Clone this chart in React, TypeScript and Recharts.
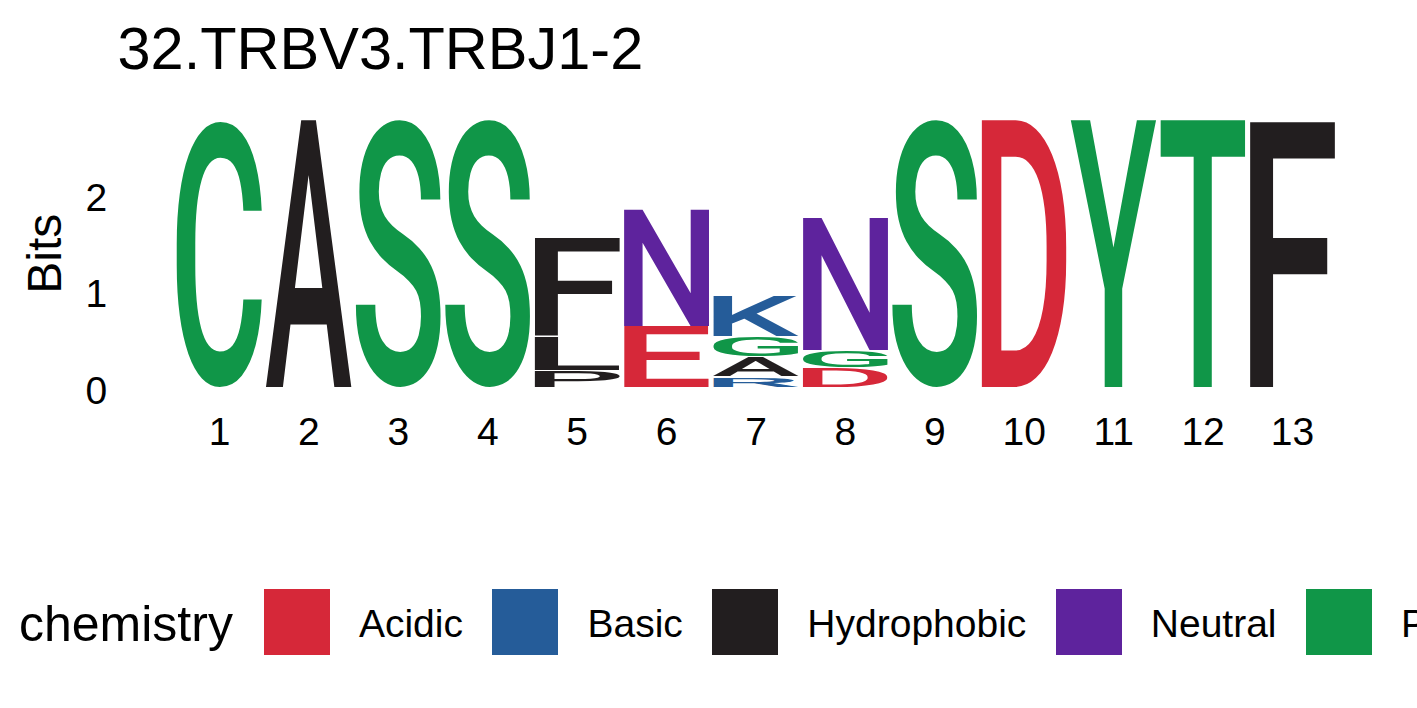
import React from 'react';
import {BarChart, Bar, XAxis, YAxis, Legend} from 'recharts';

// sequence logo: residues per position, listed bottom to top, with their heights in bits
const positions = ['1', '2', '3', '4', '5', '6', '7', '8', '9', '10', '11', '12', '13'];
const residues = [
    ['C'], ['A'], ['S'], ['S'],
    ['P', 'L', 'F'],
    ['E', 'N'],
    ['R', 'A', 'G', 'K'],
    ['D', 'G', 'N'],
    ['S'], ['D'], ['Y'], ['T'], ['F'],
];
const bits = [
    [2.76], [2.76], [2.76], [2.76],
    [0.16, 0.35, 1.03],
    [0.62, 1.22],
    [0.10, 0.20, 0.21, 0.42],
    [0.19, 0.18, 1.39],
    [2.76], [2.76], [2.76], [2.76], [2.76],
];
const yTicks = [0, 1, 2];

const chemistry = ['Acidic', 'Basic', 'Hydrophobic', 'Neutral', 'Polar'];
const chemistryColors = ['#D62839', '#255C99', '#221E1F', '#5E239D', '#109648'];
const chemistryResidues = ['DE', 'KRH', 'AVLIPWFM', 'QN', 'GSTYC'];

const TEXT_FONT = '"Liberation Sans", Arial, Helvetica, sans-serif';
const LETTER_FONT = 'Roboto';
const LETTER_WEIGHT = 500;
const LETTER_SIZE = 200;
const LETTER_GAP = 1.5; // thin white line between stacked letters

const layers = Math.max(...residues.map(r => r.length));

const data = positions.map((pos, i) => {
    const row: Record<string, string | number> = {pos};
    residues[i].forEach((aa, k) => {
        row['h' + k] = bits[i][k];
        row['aa' + k] = aa;
    });
    return row;
});

const yMax = Math.max(...bits.map(b => b.reduce((s, v) => s + v, 0)));
const yPad = yMax * 0.05;

function colorOf(aa: string) {
    const g = chemistryResidues.findIndex(s => s.includes(aa));
    return g < 0 ? '#000' : chemistryColors[g];
}

// ink bounds of a glyph, found by drawing it once on a canvas,
// so the letter can be stretched to fill its bar exactly
const inkCache: Record<string, {x0: number; x1: number; y0: number; y1: number}> = {};
function inkBox(aa: string) {
    if (inkCache[aa]) return inkCache[aa];
    const W = LETTER_SIZE * 2, H = LETTER_SIZE * 2;
    const ox = LETTER_SIZE * 0.5, oy = LETTER_SIZE * 1.5;
    const canvas = document.createElement('canvas');
    canvas.width = W;
    canvas.height = H;
    const ctx = canvas.getContext('2d')!;
    ctx.font = `${LETTER_WEIGHT} ${LETTER_SIZE}px ${LETTER_FONT}`;
    ctx.fillStyle = '#000';
    ctx.fillText(aa, ox, oy);
    const px = ctx.getImageData(0, 0, W, H).data;
    let x0 = W, x1 = 0, y0 = H, y1 = 0;
    for (let yy = 0; yy < H; yy++) {
        for (let xx = 0; xx < W; xx++) {
            if (px[(yy * W + xx) * 4 + 3] > 127) {
                if (xx < x0) x0 = xx;
                if (xx > x1) x1 = xx;
                if (yy < y0) y0 = yy;
                if (yy > y1) y1 = yy;
            }
        }
    }
    const box = {x0: x0 - ox, x1: x1 + 1 - ox, y0: y0 - oy, y1: y1 + 1 - oy};
    inkCache[aa] = box;
    return box;
}

const letterShape = (k: number) => (props: any) => {
    const {x, y, width, payload} = props;
    const aa = payload && payload['aa' + k];
    const height = props.height - (k > 0 ? LETTER_GAP : 0);
    if (!aa || !(height > 0)) return <g />;
    const ink = inkBox(aa);
    const sx = width / (ink.x1 - ink.x0);
    const sy = height / (ink.y1 - ink.y0);
    return (
        <text
            transform={`translate(${x - ink.x0 * sx},${y - ink.y0 * sy}) scale(${sx},${sy})`}
            fontFamily={LETTER_FONT}
            fontWeight={LETTER_WEIGHT}
            fontSize={LETTER_SIZE}
            fill={colorOf(aa)}
        >
            {aa}
        </text>
    );
};

const XTick = (props: any) => (
    <text x={props.x} y={props.y} textAnchor="middle" fontFamily={TEXT_FONT} fontSize={39} fill="#000">
        {props.payload.value}
    </text>
);

const YTick = (props: any) => (
    <text x={props.x} y={props.y + 17} textAnchor="end" fontFamily={TEXT_FONT} fontSize={39} fill="#000">
        {props.payload.value}
    </text>
);

const BitsLabel = (props: any) => {
    const vb = props.viewBox || {x: 0, y: 0, width: 0, height: 0};
    return (
        <text
            transform={`translate(${vb.x + 61},${vb.y + vb.height / 2}) rotate(-90)`}
            textAnchor="middle"
            fontFamily={TEXT_FONT}
            fontSize={48}
            fill="#000"
        >
            Bits
        </text>
    );
};

const ChemistryLegend = () => (
    <div style={{display: 'flex', alignItems: 'center', height: 66, fontFamily: TEXT_FONT, whiteSpace: 'nowrap', color: '#000'}}>
        <span style={{fontSize: 50, marginRight: 31, position: 'relative', top: 1.5}}>chemistry</span>
        {chemistry.map((name, i) => (
            <React.Fragment key={name}>
                <span style={{display: 'inline-block', width: 66, height: 66, background: chemistryColors[i], marginRight: 29, flex: 'none'}} />
                <span style={{fontSize: 39, marginRight: 29.5, position: 'relative', top: 1.5}}>{name}</span>
            </React.Fragment>
        ))}
    </div>
);

export default function App() {
    return (
        <div style={{position: 'fixed', left: 0, top: 0, width: 1417, height: 708, overflow: 'hidden', background: '#fff'}}>
            <div style={{position: 'absolute', left: 117.5, top: 18.6, fontFamily: TEXT_FONT, fontSize: 59.5, lineHeight: 1, color: '#000', whiteSpace: 'nowrap'}}>
                32.TRBV3.TRBJ1-2
            </div>
            <BarChart
                width={1417}
                height={708}
                data={data}
                margin={{top: 107.3, right: 79.8, bottom: 257.7, left: 0}}
            >
                <XAxis
                    dataKey="pos"
                    axisLine={false}
                    tickLine={false}
                    tickSize={0}
                    tickMargin={44.7}
                    height={50}
                    interval={0}
                    tick={<XTick />}
                />
                <YAxis
                    type="number"
                    domain={[-yPad, yMax + yPad]}
                    ticks={yTicks}
                    axisLine={false}
                    tickLine={false}
                    tickSize={0}
                    tickMargin={67.5}
                    width={174.8}
                    tick={<YTick />}
                    label={<BitsLabel />}
                />
                <Legend
                    layout="horizontal"
                    verticalAlign="middle"
                    align="center"
                    content={() => <ChemistryLegend />}
                    wrapperStyle={{top: 589, left: 19, width: 1500, height: 66}}
                />
                {Array.from({length: layers}, (_, k) => (
                    <Bar
                        key={k}
                        dataKey={'h' + k}
                        stackId="logo"
                        barSize={85}
                        shape={letterShape(k)}
                        isAnimationActive={false}
                    />
                ))}
            </BarChart>
        </div>
    );
}
